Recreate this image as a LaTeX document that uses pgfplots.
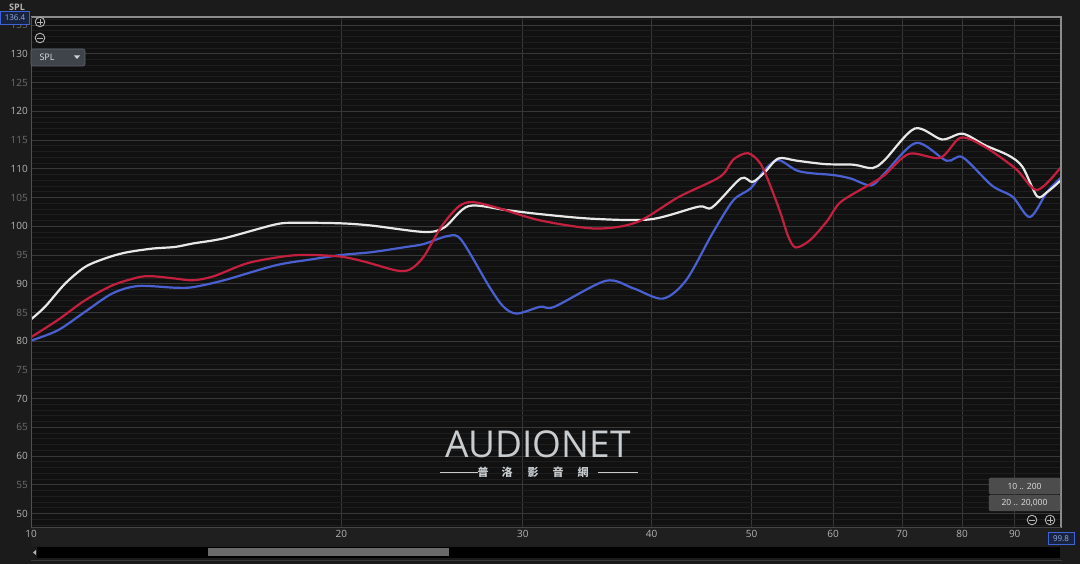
\documentclass[border=0pt]{standalone}
\usepackage{pgfplots}
\pgfplotsset{compat=1.18}
\usepackage{fontspec}
\setmainfont{Open Sans}
\newfontfamily\cjk{Noto Sans CJK TC}
\newfontfamily\thin{Open Sans}
\definecolor{bg}{HTML}{1B1B1B}
\definecolor{plotbg}{HTML}{111111}
\definecolor{band}{HTML}{1F1F1F}
\definecolor{gridmaj}{HTML}{383838}
\definecolor{gridmin}{HTML}{1E1E1E}
\definecolor{lblhi}{HTML}{B4B4B4}
\definecolor{lbllo}{HTML}{6E6E6E}
\definecolor{redC}{HTML}{C3203F}
\definecolor{blueC}{HTML}{4A5FD0}
\definecolor{whiteC}{HTML}{E8E8E6}
\definecolor{thumb}{HTML}{6A6A6A}
\definecolor{btn}{HTML}{4C4C4C}
\definecolor{boxblue}{HTML}{3F63D6}
\definecolor{boxfill}{HTML}{18233F}
\definecolor{wm}{HTML}{C8CCCF}
\definecolor{border}{HTML}{8C8C8C}
\definecolor{lborder}{HTML}{505050}
\definecolor{bborder}{HTML}{464646}
\definecolor{boxtxt}{HTML}{96AFE6}
\definecolor{btntxt}{HTML}{E1E1E1}
\definecolor{btnedge}{HTML}{5A5A5A}
\definecolor{ddfill}{HTML}{3E444A}
\definecolor{ddedge}{HTML}{5F646A}
\definecolor{tri}{HTML}{D2D2D2}
\begin{document}
\begin{tikzpicture}[x=1pt,y=1pt]
\fill[bg] (0,0) rectangle (1080,564);
\fill[band] (31,18) rectangle (1061,36);
\fill[black] (37,6) rectangle (1060,17);
\fill[thumb] (208,7.5) rectangle (449,16);
\fill[lblhi] (33,11.5) -- (36,14) -- (36,9) -- cycle;
\draw[gridmaj, line width=0.8pt] (31,3.5) -- (1062,3.5);
\begin{axis}[
  at={(31pt,36pt)}, anchor=south west,
  scale only axis, width=1030pt, height=511pt,
  xmode=log, xmin=10, xmax=99.8, ymin=47.5, ymax=136.4,
  axis background/.style={fill=plotbg},
  axis line style={draw=none},
  xtick={10,20,30,40,50,60,70,80,90},
  xticklabels={10,20,30,40,50,60,70,80,90},
  ytick={50,55,60,65,70,75,80,85,90,95,100,105,110,115,120,125,130,135},
  yticklabels={\textcolor{lblhi}{50},\textcolor{lbllo}{55},\textcolor{lblhi}{60},\textcolor{lbllo}{65},\textcolor{lblhi}{70},\textcolor{lbllo}{75},\textcolor{lblhi}{80},\textcolor{lbllo}{85},\textcolor{lblhi}{90},\textcolor{lbllo}{95},\textcolor{lblhi}{100},\textcolor{lbllo}{105},\textcolor{lblhi}{110},\textcolor{lbllo}{115},\textcolor{lblhi}{120},\textcolor{lbllo}{125},\textcolor{lblhi}{130},\textcolor{lbllo}{135}},
  minor ytick={48,49,51,52,53,54,56,57,58,59,61,62,63,64,66,67,68,69,71,72,73,74,76,77,78,79,81,82,83,84,86,87,88,89,91,92,93,94,96,97,98,99,101,102,103,104,106,107,108,109,111,112,113,114,116,117,118,119,121,122,123,124,126,127,128,129,131,132,133,134,136},
  xmajorgrids=true, ymajorgrids=true, yminorgrids=true, xminorgrids=false,
  major grid style={draw=gridmaj, line width=0.9pt},
  minor grid style={draw=gridmin, line width=0.9pt},
  tick style={draw=none}, major tick length=0pt, minor tick length=0pt,
  /pgf/number format/assume math mode=true,
  every tick label/.append style={font=\fontsize{10}{12}\selectfont},
  xticklabel style={anchor=north, inner sep=0pt, yshift=-2pt, text=lblhi},
  yticklabel style={anchor=east, inner sep=0pt, xshift=-3pt},
]
\addplot[blueC, line width=2.2pt, smooth, tension=0.5] coordinates {
(10,80.1) (10.62,81.9) (11.28,85.1) (11.99,88.3) (12.70,89.6) (13.8,89.3) (14.36,89.4) (15.39,90.6)
(17.27,93.2) (18.66,94.2) (20.0,95.0) (21.43,95.5) (23.13,96.4) (24.04,96.9) (25.38,98.3)
(26.15,97.6) (27.85,89.4) (28.73,86.0) (29.6,84.8) (31.2,86.0) (32.2,86.0) (36.1,90.5)
(38.4,89.2) (41.0,87.4) (43.2,90.6) (45.8,98.7) (48.0,104.5) (49.9,106.6) (51.6,110.0)
(53.1,111.5) (55.3,109.7) (57.3,109.2) (60.05,108.9) (62.4,108.3) (65.3,107.1) (67.3,109.2) (72.2,114.5)
(77.3,111.4) (80.1,112.0) (85.5,107.1) (89.6,105.1) (93.1,101.6) (96.7,105.9) (99.8,108.5)
};
\addplot[whiteC, line width=2.2pt, smooth, tension=0.5] coordinates {
(10,83.8) (10.32,86.0) (10.79,90.0) (11.28,92.9) (11.8,94.4) (12.34,95.4) (13.1,96.1) (13.8,96.4)
(14.36,97.0) (15.39,97.9)
(17.25,100.3) (18.08,100.6) (20.0,100.5) (21.43,100.1) (24.07,99.0) (25.18,99.8) (26.57,103.5)
(28.92,102.8) (31.2,102.1) (35.05,101.3) (39.9,101.2) (44.4,103.4) (45.8,103.3) (48.8,108.3)
(50.1,107.7) (51.5,109.4) (53.1,111.8) (55.3,111.4) (59.0,110.8) (62.8,110.7) (65.5,110.1) (67.3,111.5)
(72.0,117.0) (76.5,115.1) (80.1,116.1) (84.2,114.1) (88.8,112.3) (91.6,110.3) (94.6,105.2)
(96.7,105.9) (99.8,108.0)
};
\addplot[redC, line width=2.2pt, smooth, tension=0.5] coordinates {
(10,80.7) (10.62,83.7) (11.28,87.1) (11.99,89.7) (12.70,91.1) (13.1,91.3) (13.8,90.9) (14.36,90.6) (15.04,91.3)
(16.24,93.6) (17.68,94.8) (18.66,95.0) (20.0,94.7) (21.1,93.8) (22.62,92.3) (23.33,92.5)
(24.04,94.7) (25.0,99.9) (25.98,103.4) (26.81,104.2) (28.48,103.1) (31.2,101.0) (35.3,99.6)
(38.7,100.7) (42.5,105.1) (46.6,108.6) (48.0,111.6) (49.6,112.7) (51.0,110.9) (52.2,106.8)
(53.36,102.2) (54.3,98.1) (55.2,96.3) (57.0,97.6) (59.25,101.0) (61.0,104.2) (65.3,107.4) (67.3,108.9)
(71.1,112.6) (76.2,111.9) (79.8,115.4) (84.2,113.8) (90.2,110.0) (94.6,106.3) (99.8,110.3)
};
\end{axis}
% borders
\draw[border, line width=1.2pt] (31,547) -- (1061,547) -- (1061,36);
\draw[lborder, line width=1pt] (31,36) -- (31,547);
\draw[bborder, line width=1pt] (31,36) -- (1061,36);
% top-left UI
\node[font=\fontsize{9}{10}\selectfont\bfseries, text=lblhi] at (17,557) {SPL};
\draw[boxblue, fill=boxfill, line width=0.8pt] (0.5,540) rectangle (29,553);
\node[font=\fontsize{8}{9}\selectfont, text=boxtxt] at (15,546.5) {136.4};
\draw[lblhi, line width=0.9pt] (40,542) circle (4.8);
\draw[lblhi, line width=0.9pt] (37.2,542) -- (42.8,542) (40,539.2) -- (40,544.8);
\draw[lblhi, line width=0.9pt] (40,526) circle (4.8);
\draw[lblhi, line width=0.9pt] (37.2,526) -- (42.8,526);
\draw[rounded corners=2pt, fill=ddfill, draw=ddedge, line width=0.6pt] (31,498) rectangle (85,515);
\node[font=\fontsize{9}{10}\selectfont, text=btntxt, anchor=west] at (36,506.5) {SPL};
\fill[tri] (74,508.5) -- (80,508.5) -- (77,505) -- cycle;
% bottom-right UI
\draw[rounded corners=1.5pt, fill=btn, draw=btnedge] (989,70) rectangle (1060,86);
\node[font=\fontsize{8.5}{10}\selectfont, text=btntxt] at (1024.5,78) {10 .. 200};
\draw[rounded corners=1.5pt, fill=btn, draw=btnedge] (989,53) rectangle (1060,69);
\node[font=\fontsize{8.5}{10}\selectfont, text=btntxt] at (1024.5,61) {20 .. 20,000};
\draw[lblhi, line width=0.9pt] (1032,44) circle (4.8);
\draw[lblhi, line width=0.9pt] (1029.2,44) -- (1034.8,44);
\draw[lblhi, line width=0.9pt] (1050,44) circle (4.8);
\draw[lblhi, line width=0.9pt] (1047.2,44) -- (1052.8,44) (1050,41.2) -- (1050,46.8);
\draw[boxblue, fill=boxfill, line width=0.8pt] (1048,19.5) rectangle (1074,32);
\node[font=\fontsize{8}{9}\selectfont, text=boxtxt] at (1061,25.7) {99.8};
% watermark
\node[font=\thin\fontsize{37}{40}\selectfont, text=wm, inner sep=0pt, anchor=base] at (538,106) {AUDIONET};
\draw[wm, line width=1.1pt] (440,91.5) -- (478,91.5) (598,91.5) -- (638,91.5);
\foreach \c/\xx in {普/483,洛/507,影/533,音/558,網/583}
  \node[font=\cjk\fontsize{11}{11}\selectfont\bfseries, text=wm, inner sep=0pt] at (\xx,91.5) {\c};
\pgfresetboundingbox
\path[use as bounding box] (0,0) rectangle (1080,564);
\end{tikzpicture}
\end{document}
